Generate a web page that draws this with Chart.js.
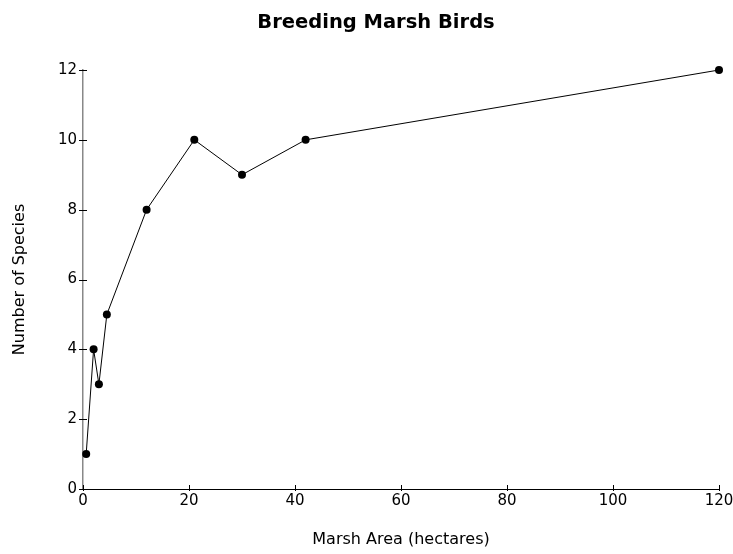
<!DOCTYPE html>
<html>
<head>
<meta charset="utf-8">
<script src="https://cdn.jsdelivr.net/npm/chart.js@4"></script>
<style>
  html, body { margin: 0; padding: 0; background: #fff; }
  #wrap { width: 733px; height: 554px; }
</style>
</head>
<body>
<div id="wrap"><canvas id="myChart" width="733" height="554"></canvas></div>
<script>
// marsh area (hectares) and number of breeding species
var marshArea = [0.6, 2, 3, 4.5, 12, 21, 30, 42, 120];
var speciesCount = [1, 4, 3, 5, 8, 10, 9, 10, 12];
var xTicks = [0, 20, 40, 60, 80, 100, 120];
var yTicks = [0, 2, 4, 6, 8, 10, 12];

var points = marshArea.map(function (a, i) { return { x: a, y: speciesCount[i] }; });

// small tick marks that cross the axis line
var crossTicks = {
  id: 'crossTicks',
  afterDraw: function (chart) {
    var ctx = chart.ctx;
    var xs = chart.scales.x, ys = chart.scales.y;
    ctx.save();
    ctx.strokeStyle = '#000';
    ctx.lineWidth = 1;
    ctx.beginPath();
    xTicks.forEach(function (v) {
      var px = Math.round(xs.getPixelForValue(v)) + 0.5;
      ctx.moveTo(px, ys.bottom - 4);
      ctx.lineTo(px, ys.bottom + 2);
    });
    yTicks.forEach(function (v) {
      var py = Math.round(ys.getPixelForValue(v)) + 0.5;
      ctx.moveTo(xs.left - 4, py);
      ctx.lineTo(xs.left + 4, py);
    });
    ctx.stroke();
    ctx.restore();
  }
};

var font = "'DejaVu Sans', 'Liberation Sans', Arial, sans-serif";

var ctx = document.getElementById('myChart').getContext('2d');
var chart = new Chart(ctx, {
  type: 'scatter',
  data: {
    datasets: [{
      label: 'Species',
      data: points,
      showLine: true,
      clip: false,
      borderColor: '#000',
      borderWidth: 1,
      backgroundColor: '#000',
      pointRadius: 4,
      pointBorderWidth: 0
    }]
  },
  options: {
    responsive: false,
    animation: false,
    // left padding nudges the title centre; the y axis box makes up the rest
    layout: { padding: { left: 33, right: 14, top: 0, bottom: 0 } },
    plugins: {
      legend: { display: false },
      tooltip: { enabled: false },
      title: {
        display: true,
        text: 'Breeding Marsh Birds',
        color: '#000',
        font: { family: font, size: 19.5, weight: 'bold', lineHeight: 1.2 },
        padding: { top: 10.8, bottom: 35.8 }
      }
    },
    scales: {
      x: {
        type: 'linear',
        min: 0,
        max: 120,
        afterFit: function (s) { s.height = 65; s.paddingLeft = 0; s.paddingRight = 0; },
        afterBuildTicks: function (s) { s.ticks = xTicks.map(function (v) { return { value: v }; }); },
        grid: { display: true, drawOnChartArea: false, drawTicks: false },
        border: { display: true, color: '#000', width: 1 },
        ticks: { color: '#000', padding: 3, font: { family: font, size: 15 }, maxRotation: 0 },
        title: {
          display: true,
          text: 'Marsh Area (hectares)',
          color: '#000',
          font: { family: font, size: 16, lineHeight: 1.2 },
          padding: { top: 0, bottom: 4.4 }
        }
      },
      y: {
        type: 'linear',
        min: 0,
        max: 12,
        afterFit: function (s) { s.width = 50; s.paddingTop = 0; s.paddingBottom = 0; },
        afterBuildTicks: function (s) { s.ticks = yTicks.map(function (v) { return { value: v }; }); },
        grid: { display: true, drawOnChartArea: false, drawTicks: false },
        border: { display: true, color: '#888', width: 1.5 },
        ticks: { color: '#000', padding: 6, font: { family: font, size: 15 } },
        title: {
          display: true,
          text: 'Number of Species',
          color: '#000',
          font: { family: font, size: 16, lineHeight: 1.2 },
          padding: { top: -22.6, bottom: 0 }
        }
      }
    }
  },
  plugins: [crossTicks]
});
</script>
</body>
</html>
